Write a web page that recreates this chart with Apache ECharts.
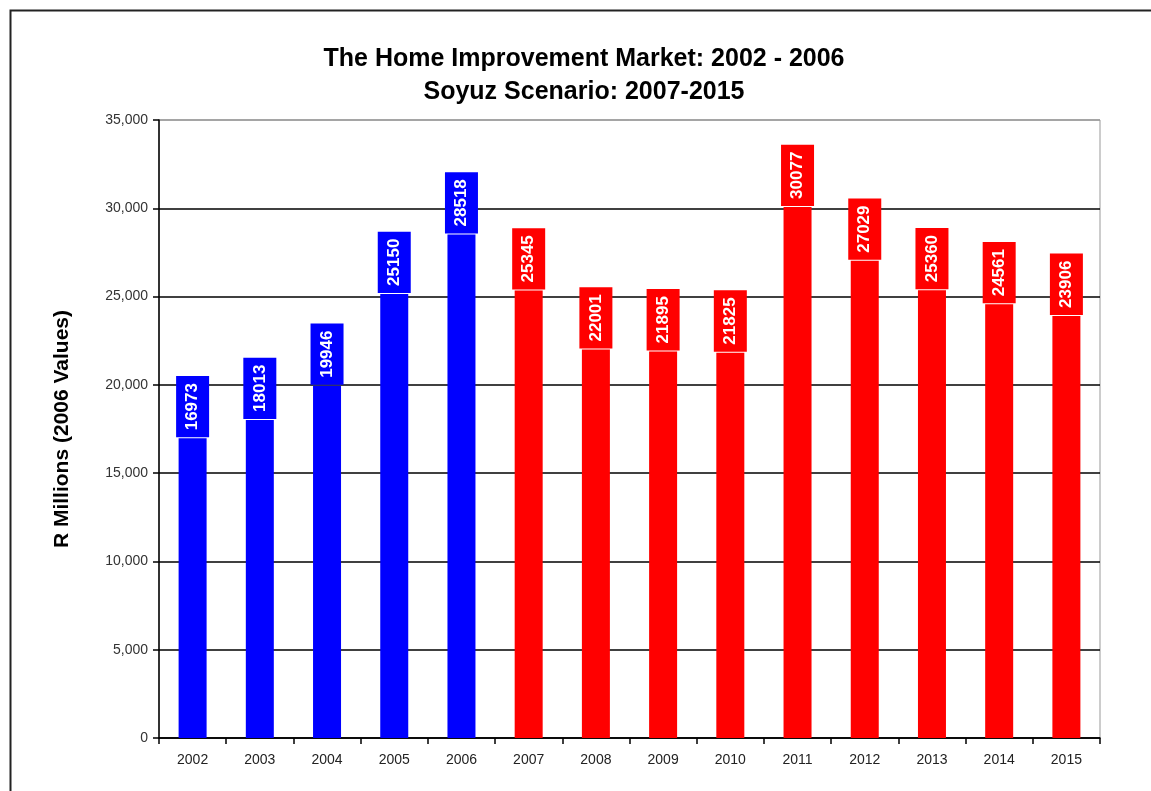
<!DOCTYPE html>
<html>
<head>
<meta charset="utf-8">
<script src="https://cdn.jsdelivr.net/npm/echarts@6/dist/echarts.min.js"></script>
<style>html,body{margin:0;padding:0;background:#fff;}#c{width:1151px;height:791px;}</style>
</head>
<body>
<div id="c"></div>
<script>
var years = ['2002','2003','2004','2005','2006','2007','2008','2009','2010','2011','2012','2013','2014','2015'];
var values = [16973, 18013, 19946, 25150, 28518, 25345, 22001, 21895, 21825, 30077, 27029, 25360, 24561, 23906];
var historicCount = 5; // 2002-2006 actual, rest scenario
var histColor = '#0000FF';
var scenColor = '#FF0000';
var titleLines = ['The Home Improvement Market: 2002 - 2006', 'Soyuz Scenario: 2007-2015'];
var yAxisName = 'R Millions (2006 Values)';

var chart = echarts.init(document.getElementById('c'));
var data = values.map(function (v, i) {
  var col = i < historicCount ? histColor : scenColor;
  return { value: v, itemStyle: { color: col }, label: { backgroundColor: col } };
});

chart.setOption({
  animation: false,
  backgroundColor: '#fff',
  graphic: [{
    type: 'rect', left: 8, top: 8,
    shape: { width: 1200, height: 900 },
    style: { fill: 'none', stroke: '#222', lineWidth: 2 },
    silent: true, z: -1
  }],
  title: {
    text: titleLines.join('\n'),
    left: 579, top: 38, textAlign: 'center',
    textStyle: { fontFamily: 'Liberation Sans, Arial', fontWeight: 'bold', fontSize: 25, lineHeight: 33, color: '#000' }
  },
  grid: { left: 159, right: 51, top: 120, bottom: 53, show: true, borderColor: '#999', borderWidth: 1 },
  xAxis: {
    type: 'category', data: years,
    axisLine: { lineStyle: { color: '#000', width: 1.5 } },
    axisTick: { show: true, alignWithLabel: false, length: 6, lineStyle: { color: '#000', width: 1.5 } },
    axisLabel: { color: '#222', fontSize: 14, fontFamily: 'Liberation Sans, Arial', margin: 15 }
  },
  yAxis: {
    type: 'value', min: 0, max: 35000, interval: 5000,
    name: yAxisName, nameLocation: 'middle', nameGap: 86,
    nameTextStyle: { fontFamily: 'Liberation Sans, Arial', fontWeight: 'bold', fontSize: 21, color: '#000' },
    axisLine: { show: true, lineStyle: { color: '#000', width: 1.5 } },
    axisTick: { show: true, length: 6, lineStyle: { color: '#000', width: 1.5 } },
    axisLabel: {
      color: '#333', fontSize: 14, fontFamily: 'Liberation Sans, Arial', margin: 11,
      formatter: function (v) { return v.toLocaleString('en-US'); }
    },
    splitLine: { show: true, lineStyle: { color: ['#000', '#000', '#000', '#000', '#000', '#000', '#000', '#999'], width: 1.5 } }
  },
  series: [{
    type: 'bar', data: data, barWidth: 28,
    label: {
      show: true, position: 'top', distance: 1, rotate: 90,
      align: 'left', verticalAlign: 'middle',
      color: '#fff', fontWeight: 'bold', fontSize: 17,
      fontFamily: 'Liberation Sans, Arial',
      padding: [8, 7, 8, 7]
    }
  }]
});
</script>
</body>
</html>
